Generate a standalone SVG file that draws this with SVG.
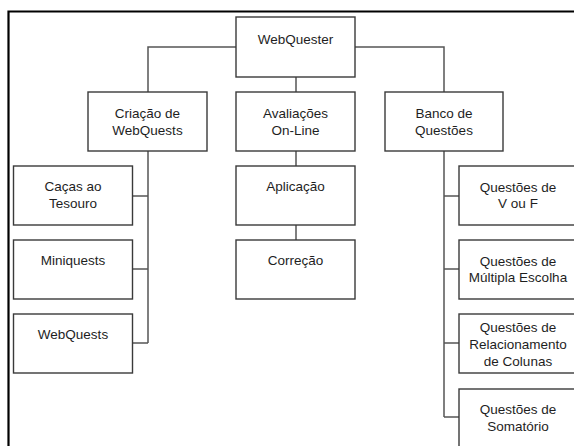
<svg xmlns="http://www.w3.org/2000/svg" width="574" height="446" viewBox="0 0 574 446">
<style>
.b{fill:#fff;stroke:#3a3a3a;stroke-width:1.4}
.t{font-family:"Liberation Sans",Arial,sans-serif;font-size:13.5px;fill:#1e1e1e;text-anchor:middle}
.c{fill:none;stroke:#555;stroke-width:1.5}
</style>
<rect width="574" height="446" fill="#fff"/>
<path d="M8.5,446 V11.5 H574" fill="none" stroke="#000" stroke-width="2.2"/>
<g id="connectors">
<path class="c" d="M236,47 H148 V92"/>
<path class="c" d="M355,47 H444 V92"/>
<path class="c" d="M296,77 V92 M296,151 V166 M296,225 V240"/>
<path class="c" d="M148,151 V343 M133,196 H148 M133,269 H148 M133,343 H148"/>
<path class="c" d="M444,151 V417 M444,196 H459 M444,269 H459 M444,343 H459 M444,417 H459"/>
</g>
<g id="webquester"><rect class="b" x="236" y="17" width="119" height="60"/><text class="t" x="295.5" y="44">WebQuester</text></g>
<g id="criacao"><rect class="b" x="88" y="92" width="119" height="59"/><text class="t" x="147.5" y="118">Criação de</text><text class="t" x="147.5" y="134.5">WebQuests</text></g>
<g id="avaliacoes"><rect class="b" x="236" y="92" width="119" height="59"/><text class="t" x="295.5" y="118">Avaliações</text><text class="t" x="295.5" y="134.5">On-Line</text></g>
<g id="banco"><rect class="b" x="385" y="92" width="118" height="59"/><text class="t" x="444" y="118">Banco de</text><text class="t" x="444" y="134.5">Questões</text></g>
<g id="cacas"><rect class="b" x="13.5" y="166" width="119" height="59"/><text class="t" x="73" y="191">Caças ao</text><text class="t" x="73" y="207.5">Tesouro</text></g>
<g id="miniquests"><rect class="b" x="13.5" y="240" width="119" height="59"/><text class="t" x="73" y="265">Miniquests</text></g>
<g id="webquests"><rect class="b" x="13.5" y="314" width="119" height="59"/><text class="t" x="73" y="339">WebQuests</text></g>
<g id="aplicacao"><rect class="b" x="236" y="166" width="119" height="59"/><text class="t" x="295.5" y="191">Aplicação</text></g>
<g id="correcao"><rect class="b" x="236" y="240" width="119" height="59"/><text class="t" x="295.5" y="265">Correção</text></g>
<g id="vouf"><rect class="b" x="459" y="166" width="119" height="59"/><text class="t" x="518" y="191.5">Questões de</text><text class="t" x="518" y="208">V ou F</text></g>
<g id="multipla"><rect class="b" x="459" y="240" width="119" height="59"/><text class="t" x="518" y="265.5">Questões de</text><text class="t" x="518" y="282">Múltipla Escolha</text></g>
<g id="relacionamento"><rect class="b" x="459" y="314" width="119" height="59"/><text class="t" x="518" y="331.5">Questões de</text><text class="t" x="518" y="348.5">Relacionamento</text><text class="t" x="518" y="365.5">de Colunas</text></g>
<g id="somatorio"><rect class="b" x="459" y="389" width="119" height="62"/><text class="t" x="518" y="414">Questões de</text><text class="t" x="518" y="431">Somatório</text></g>
</svg>
